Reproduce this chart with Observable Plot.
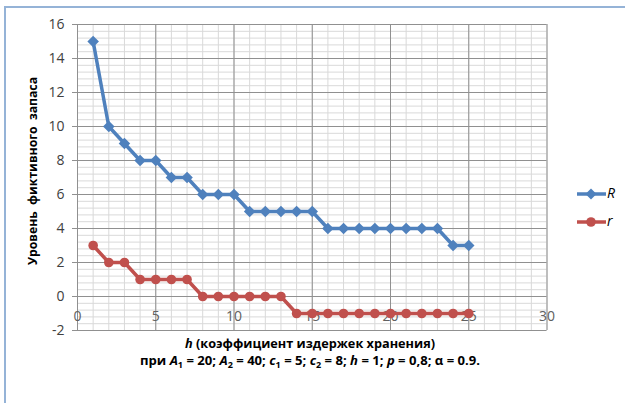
<!DOCTYPE html>
<html>
<head>
<meta charset="utf-8">
<script src="https://cdn.jsdelivr.net/npm/d3@7"></script>
<script src="https://cdn.jsdelivr.net/npm/@observablehq/plot@0.6"></script>
<style>
  body { margin: 0; background: #fff; }
  #wrap { position: relative; width: 625px; height: 403px; overflow: hidden; background: #fff;
          font-family: "Open Sans", "Noto Sans", sans-serif; }
  #frame { position: absolute; left: 4px; top: 6px; width: 700px; height: 500px;
           border-top: 2px solid #95B3D7; border-left: 2px solid #95B3D7; }
  #chart { position: absolute; left: 0; top: 0; }
  #titles { position: absolute; left: 0; top: 0; pointer-events: none; }
  #titles text { font-family: "Open Sans", "Noto Sans", sans-serif; font-weight: bold; font-size: 13px; fill: #000; }
  .leg { position: absolute; left: 576px; font-size: 14px; line-height: 16px; font-style: italic; color: #000; }
  .leg svg { vertical-align: middle; }
</style>
</head>
<body>
<div id="wrap">
  <div id="frame"></div>
  <div id="chart"></div>
  <svg id="titles" width="625" height="403">
    <text transform="translate(37,171) rotate(-90)" text-anchor="middle" textLength="188" lengthAdjust="spacingAndGlyphs" xml:space="preserve">Уровень  фиктивного  запаса</text>
    <text x="310" y="348" text-anchor="middle" textLength="250" lengthAdjust="spacingAndGlyphs"><tspan font-style="italic">h</tspan> (коэффициент издержек хранения)</text>
    <text x="310" y="365" text-anchor="middle" textLength="340" lengthAdjust="spacingAndGlyphs">при <tspan font-style="italic">A</tspan><tspan font-size="9" dy="3">1</tspan><tspan dy="-3"> = 20; </tspan><tspan font-style="italic">A</tspan><tspan font-size="9" dy="3">2</tspan><tspan dy="-3"> = 40; </tspan><tspan font-style="italic">c</tspan><tspan font-size="9" dy="3">1</tspan><tspan dy="-3"> = 5; </tspan><tspan font-style="italic">c</tspan><tspan font-size="9" dy="3">2</tspan><tspan dy="-3"> = 8; </tspan><tspan font-style="italic">h</tspan> = 1; <tspan font-style="italic">p</tspan> = 0,8; α = 0.9.</text>
  </svg>
  <div class="leg" id="legR" style="top:185px"></div>
  <div class="leg" id="legr" style="top:213px"></div>
</div>
<script>
// Storage cost coefficient h
const hValues = [1, 2, 3, 4, 5, 6, 7, 8, 9, 10, 11, 12, 13, 14, 15, 16, 17, 18, 19, 20, 21, 22, 23, 24, 25];
// Levels R and r of the fictitious stock
const seriesR = [15, 10, 9, 8, 8, 7, 7, 6, 6, 6, 5, 5, 5, 5, 5, 4, 4, 4, 4, 4, 4, 4, 4, 3, 3];
const seriesr = [3, 2, 2, 1, 1, 1, 1, 0, 0, 0, 0, 0, 0, -1, -1, -1, -1, -1, -1, -1, -1, -1, -1, -1, -1];
const xTicks = [0, 5, 10, 15, 20, 25, 30];
const yTicks = [-2, 0, 2, 4, 6, 8, 10, 12, 14, 16];

const blue = "#4F81BD";
const red = "#C0504D";

const data = hValues.map((h, i) => ({h, R: seriesR[i], r: seriesr[i]}));

// minor grid: every unit on x, every fifth of a major step on y
const xMinor = d3.range(0, 31);
const yMinor = d3.range(0, 46).map(i => -2 + i * 0.4);

const chart = Plot.plot({
  width: 625,
  height: 340,
  marginLeft: 77,
  marginRight: 78.5,
  marginTop: 24,
  marginBottom: 10,
  x: {domain: [0, 30], axis: null},
  y: {domain: [-2, 16], axis: null},
  style: {fontFamily: "'Open Sans', 'Noto Sans', sans-serif", fontSize: "14px", color: "#404040", background: "transparent"},
  marks: [
    Plot.gridX(xMinor, {stroke: "#d9d9d9", strokeOpacity: 1}),
    Plot.gridY(yMinor, {stroke: "#d9d9d9", strokeOpacity: 1}),
    Plot.gridX(xTicks, {stroke: "#909090", strokeOpacity: 1}),
    Plot.gridY(yTicks, {stroke: "#909090", strokeOpacity: 1}),
    Plot.axisY(yTicks, {tickSize: 5, tickPadding: 8, stroke: "#909090", fill: "#404040", fontSize: 14, tickFormat: d => String(d)}),
    Plot.text(xTicks, {x: d => d, y: () => 0, dy: 20, text: d => String(d), fill: "#606060", fontSize: 14}),
    Plot.line(data, {x: "h", y: "R", stroke: blue, strokeWidth: 3.5}),
    Plot.dot(data, {x: "h", y: "R", symbol: "diamond2", r: 5.2, fill: blue, stroke: null}),
    Plot.line(data, {x: "h", y: "r", stroke: red, strokeWidth: 3.5}),
    Plot.dot(data, {x: "h", y: "r", symbol: "circle", r: 4.8, fill: red, stroke: null})
  ]
});
document.getElementById("chart").append(chart);

// legend entries
function legendEntry(id, color, shape, label) {
  const marker = shape === "diamond"
    ? `<path d="M15,1.5 L20.5,7 L15,12.5 L9.5,7 Z" fill="${color}"/>`
    : `<circle cx="15" cy="7" r="4.8" fill="${color}"/>`;
  document.getElementById(id).innerHTML =
    `<svg width="31" height="14"><line x1="1" y1="7" x2="30" y2="7" stroke="${color}" stroke-width="3.5"/>${marker}</svg><span>${label}</span>`;
}
legendEntry("legR", blue, "diamond", "R");
legendEntry("legr", red, "circle", "r");
</script>
</body>
</html>
